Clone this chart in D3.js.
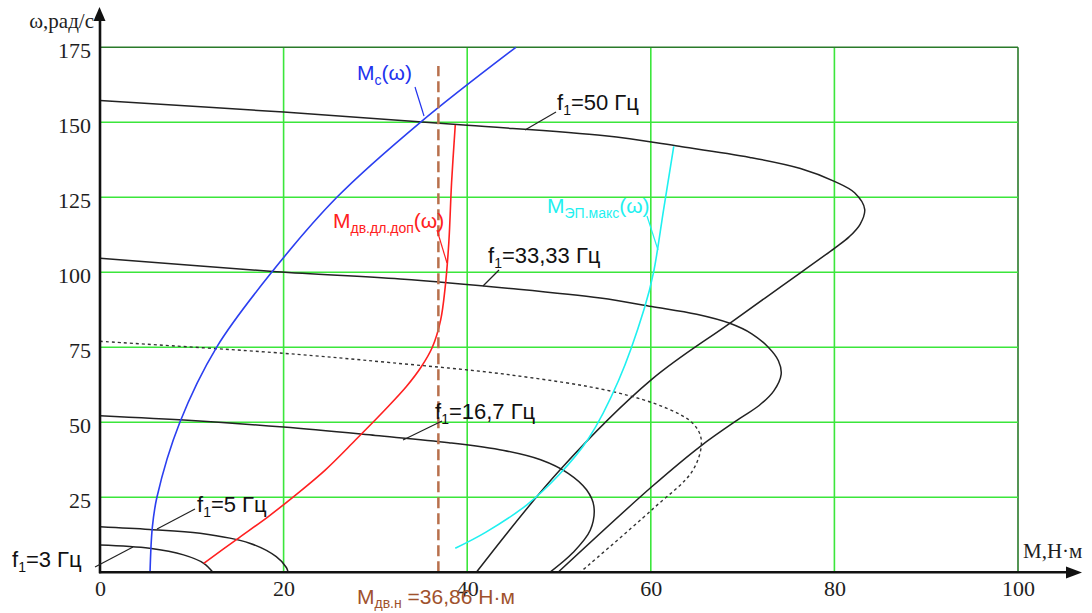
<!DOCTYPE html>
<html>
<head>
<meta charset="utf-8">
<title>Механические характеристики</title>
<script src="https://d3js.org/d3.v7.min.js"></script>
<style>
  body { margin: 0; background: #fff; }
  svg { display: block; }
</style>
</head>
<body>
<div id="chart"></div>
<script>
// Axis ticks
var xTicks = [0, 20, 40, 60, 80, 100];
var yTicks = [25, 50, 75, 100, 125, 150, 175];

// Mechanical characteristics, pairs [M (Н·м), ω (рад/с)]
var curveF50 = [[0,157.3],[20,153.4],[40,149],[55,145.5],[63.1,142],[70.8,138.3],[76.3,134.6],[80,130.3],[82.2,126.5],[83.3,121],[82.8,116],[81.6,111.8],[80,108],[74.3,95.5],[68.6,83],[60.1,64.3],[50.1,34.1],[41,0]];
var curveF33 = [[0,104.7],[19.2,100.2],[32.7,97.8],[44.7,94.6],[54.5,91.4],[60.1,88.6],[65,86],[68.6,83],[71,79.5],[72.8,75],[73.9,70.5],[74.2,66],[73.4,60.5],[71.8,55.6],[69.7,51.3],[65.4,42],[60.1,28.5],[49.9,0]];
var curveDotted = [[0,77],[20,73],[31.6,69.9],[44.7,65.8],[55.9,60.2],[61.7,54.7],[64.6,49.6],[65.5,44.1],[64.6,34.1],[60.1,20.8],[52.3,0]];
var curveF16 = [[0,52.2],[10,50.6],[20,48.4],[30,45.6],[38,43.2],[44,40.6],[48,37.5],[51,33],[53,27.5],[53.8,22],[53.4,14],[51.5,6.5],[49,0]];
var curveF5 = [[0,15.2],[5.4,14.3],[10.9,13],[16.3,9.7],[19.2,5.2],[20.3,1.6],[20.5,0]];
var curveF3 = [[0,9.1],[5.4,8],[9.1,5.8],[11.3,3],[12.3,0]];

// Load torque Mc(ω)
var loadTorque = [[5.45,0],[5.7,15],[6.2,25],[8.7,50],[12.7,75],[18.7,100],[25.8,125],[34.9,150],[45.3,175]];
// Permissible long-term motor torque
var motorAllowed = [[11.3,3],[14.9,11],[18.3,18.5],[21.2,25.5],[24.5,34],[27.8,44],[31,54],[33.4,62],[35,68.5],[36.2,75],[37.1,84],[37.6,95],[38,110],[38.3,130],[38.7,149.1]];
// Max drive torque
var driveMax = [[38.7,8],[42,13.3],[46.5,22.5],[50,32.5],[53.2,44.5],[56.5,64],[59.3,88],[60.3,100],[61.4,121],[62.5,142]];
// Rated motor torque
var ratedTorque = 36.86;
var ratedTop = 168.8;

var width = 1092, height = 613;

var x = d3.scaleLinear().domain([0, 100]).range([100, 1018]);
var y = d3.scaleLinear().domain([0, 175]).range([572.3, 47.3]);

var svg = d3.select("#chart").append("svg")
    .attr("width", width)
    .attr("height", height);

// Grid
var grid = svg.append("g");
grid.selectAll(".vgrid")
    .data(xTicks.slice(1))
    .enter().append("line")
    .attr("x1", function(d) { return x(d); })
    .attr("x2", function(d) { return x(d); })
    .attr("y1", y(0))
    .attr("y2", y(175))
    .attr("stroke", function(d) { return d === 100 ? "#2a7a2a" : "#3be63b"; })
    .attr("stroke-width", 1.6);
grid.selectAll(".hgrid")
    .data(yTicks)
    .enter().append("line")
    .attr("x1", x(0))
    .attr("x2", x(100))
    .attr("y1", function(d) { return y(d); })
    .attr("y2", function(d) { return y(d); })
    .attr("stroke", function(d) { return d === 175 ? "#2a7a2a" : "#3be63b"; })
    .attr("stroke-width", 1.6);

// Tick labels through axes
var yAxis = d3.axisLeft(y).tickValues(yTicks).tickSize(0).tickPadding(0);
var gy = svg.append("g").attr("transform", "translate(91,0)").call(yAxis);
gy.select(".domain").remove();
gy.selectAll("text")
    .attr("dy", "0.62em")
    .attr("y", -3)
    .style("font-family", "'Liberation Serif', 'DejaVu Serif', serif")
    .style("font-size", "22px")
    .attr("fill", "#1e1e1e");

var xAxis = d3.axisBottom(x).tickValues(xTicks).tickSize(0).tickPadding(0);
var gx = svg.append("g").attr("transform", "translate(0,580)").call(xAxis);
gx.select(".domain").remove();
gx.selectAll("text")
    .attr("dy", "0.72em")
    .style("font-family", "'Liberation Serif', 'DejaVu Serif', serif")
    .style("font-size", "22px")
    .attr("fill", "#1e1e1e");

// Curves
var line = d3.line()
    .x(function(d) { return x(d[0]); })
    .y(function(d) { return y(d[1]); })
    .curve(d3.curveCatmullRom.alpha(0.5));

function drawCurve(data, color, w, dash) {
    svg.append("path")
        .datum(data)
        .attr("d", line)
        .attr("fill", "none")
        .attr("stroke", color)
        .attr("stroke-width", w)
        .attr("stroke-dasharray", dash || null);
}

drawCurve(curveF50, "#222", 1.5);
drawCurve(curveF33, "#222", 1.5);
drawCurve(curveDotted, "#333", 1.4, "3,3");
drawCurve(curveF16, "#222", 1.5);
drawCurve(curveF5, "#222", 1.5);
drawCurve(curveF3, "#222", 1.5);
drawCurve(loadTorque, "#2b3ff0", 1.6);
drawCurve(motorAllowed, "#ff2020", 1.6);
drawCurve(driveMax, "#1ff0f0", 1.6);

// Rated torque line
svg.append("line")
    .attr("x1", x(ratedTorque)).attr("x2", x(ratedTorque))
    .attr("y1", y(0)).attr("y2", y(ratedTop))
    .attr("stroke", "#b8704c")
    .attr("stroke-width", 2.5)
    .attr("stroke-dasharray", "11,5");

// Axes with arrows
svg.append("line")
    .attr("x1", x(0)).attr("x2", x(0))
    .attr("y1", y(0) + 1).attr("y2", 18)
    .attr("stroke", "#111").attr("stroke-width", 2.6);
svg.append("path")
    .attr("d", "M99.5,7 L93.5,21 L105.5,21 Z")
    .attr("fill", "#111");
svg.append("line")
    .attr("x1", x(0) - 1).attr("x2", 1070)
    .attr("y1", y(0)).attr("y2", y(0))
    .attr("stroke", "#111").attr("stroke-width", 2.6);
svg.append("path")
    .attr("d", "M1082,572.5 L1066,566.5 L1066,578.5 Z")
    .attr("fill", "#111");

svg.append("text")
    .attr("x", 94).attr("y", 28)
    .attr("text-anchor", "end")
    .style("font-family", "'Liberation Serif', serif")
    .style("font-size", "21px")
    .attr("fill", "#1e1e1e")
    .text("ω,рад/с");
svg.append("text")
    .attr("x", 1023).attr("y", 558)
    .style("font-family", "'Liberation Serif', serif")
    .style("font-size", "21px")
    .attr("fill", "#1e1e1e")
    .text("М,Н·м");

// Labels with subscripts
function label(px, py, parts, color, size, drop) {
    var t = svg.append("text")
        .attr("x", px).attr("y", py)
        .style("font-family", "'Liberation Sans', Arial, sans-serif")
        .style("font-size", size + "px")
        .attr("fill", color);
    parts.forEach(function(p) {
        var s = t.append("tspan").text(p[0]);
        if (p[1]) {
            s.attr("font-size", Math.round(size * 0.65) + "px").attr("dy", drop);
        } else if (p[2]) {
            s.attr("dy", -drop);
        }
    });
}

function leader(x1, y1, x2, y2, color) {
    svg.append("line")
        .attr("x1", x1).attr("y1", y1).attr("x2", x2).attr("y2", y2)
        .attr("stroke", color).attr("stroke-width", 1.2);
}

label(357, 80, [["M"], ["c", 1], ["(ω)", 0, 1]], "#2233ee", 21, 5);
leader(415, 87, 424, 116, "#2233ee");

label(557, 110, [["f"], ["1", 1], ["=50 Гц", 0, 1]], "#111", 22, 5);
leader(525, 130, 556, 112, "#222");

label(333, 228, [["M"], ["дв.дл.доп", 1], ["(ω)", 0, 1]], "#ff2020", 21, 5);
leader(437, 230, 447, 263, "#ff2020");

label(488, 263, [["f"], ["1", 1], ["=33,33 Гц", 0, 1]], "#111", 22, 5);
leader(483, 286, 499, 270, "#222");

label(547, 213, [["M"], ["ЭП.макс", 1], ["(ω)", 0, 1]], "#1ff0f0", 21, 5);
leader(647, 216, 658, 250, "#1ff0f0");

label(435, 419, [["f"], ["1", 1], ["=16,7 Гц", 0, 1]], "#111", 22, 5);
leader(403, 440, 442, 421, "#222");

label(197, 512, [["f"], ["1", 1], ["=5 Гц", 0, 1]], "#111", 22, 5);
leader(157, 529, 195, 509, "#222");

label(12, 567, [["f"], ["1", 1], ["=3 Гц", 0, 1]], "#111", 22, 5);
leader(95, 567, 133, 547, "#222");

label(357, 604, [["M"], ["дв.н", 1], [" =36,86 Н·м", 0, 1]], "#a0522d", 21, 4);
</script>
</body>
</html>
